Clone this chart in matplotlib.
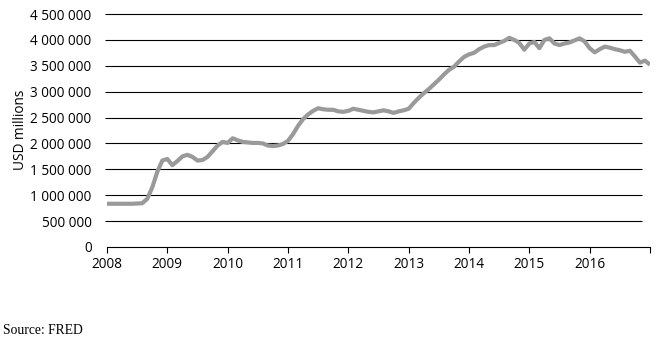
import matplotlib
matplotlib.use("Agg")
import matplotlib.pyplot as plt
import matplotlib.ticker as ticker
import numpy as np

# monthly total assets, USD millions (Jan 2008 .. Jan 2017)
values = [
    835, 835, 835, 835, 835, 835, 840, 845, 930, 1150, 1450, 1670,
    1700, 1580, 1660, 1750, 1780, 1740, 1670, 1680, 1740, 1850, 1960, 2030,
    2010, 2100, 2060, 2030, 2020, 2010, 2010, 2000, 1960, 1950, 1960, 1990,
    2050, 2180, 2340, 2470, 2560, 2630, 2680, 2660, 2650, 2650, 2620, 2610,
    2630, 2670, 2650, 2630, 2610, 2600, 2620, 2640, 2620, 2590, 2620, 2640,
    2670, 2780, 2880, 2970, 3050, 3140, 3230, 3330, 3420, 3480, 3580, 3670,
    3720, 3750, 3820, 3870, 3900, 3900, 3940, 3980, 4040, 4000, 3940, 3810,
    3930, 3960, 3840, 4000, 4030, 3930, 3900, 3930, 3950, 3990, 4030, 3970,
    3840, 3760, 3820, 3870, 3850, 3820, 3800, 3770, 3790, 3680, 3560, 3600,
    3520,
]
values = [v * 1000 for v in values]
dates = [2008 + i / 12 for i in range(len(values))]

years = list(range(2008, 2018))
year_labels = [str(y) for y in range(2008, 2017)] + [""]
yticks = list(range(0, 4500001, 500000))

fig = plt.figure(figsize=(6.58, 3.48), dpi=100)
ax = fig.add_axes([107/658, 1 - 247/348, 543/658, 233/348])

# horizontal gridlines (stop a little before the right end, like the original)
ax.hlines(yticks[1:], 2007.97, 2016.87, colors="black", linewidth=0.8, clip_on=False, zorder=1)

ax.plot(dates, values, color="#9a9a9a", linewidth=3, solid_capstyle="butt", zorder=3)

ax.set_xlim(2008, 2017)
ax.set_ylim(0, 4500000)
ax.set_xticks(years)
ax.set_xticklabels(year_labels)
ax.set_yticks(yticks)
ax.yaxis.set_major_formatter(ticker.FuncFormatter(lambda v, p: f"{int(v):,}".replace(",", " ")))

for s in ["top", "right", "left"]:
    ax.spines[s].set_visible(False)
ax.spines["bottom"].set_linewidth(0.8)
ax.tick_params(axis="y", length=0, pad=11, labelsize=9.8)
ax.tick_params(axis="x", length=4, width=0.8, direction="out", pad=3, labelsize=9.8)
for lab in ax.get_xticklabels() + ax.get_yticklabels():
    lab.set_family("Open Sans")

fig.text(21/658, 1 - 130/348, "USD millions", rotation=90, ha="center", va="center",
         fontsize=9.8, family="Open Sans")
fig.text(3/658, 1 - 331/348, "Source: FRED", ha="left", va="center",
         fontsize=9.8, family="Liberation Serif")

fig.savefig("out.png", dpi=100)
